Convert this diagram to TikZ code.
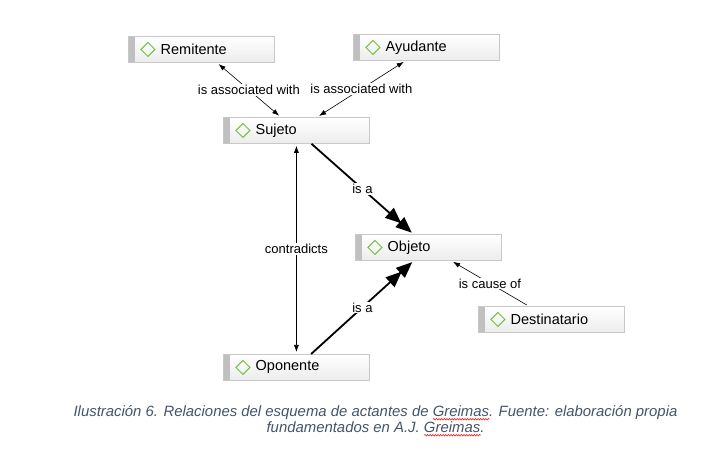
\documentclass[tikz,border=0pt]{standalone}
\usepackage{fontspec}
\setmainfont{Liberation Sans}
\usetikzlibrary{arrows.meta,decorations.pathmorphing}
\definecolor{boxborder}{HTML}{C8C8C8}
\definecolor{barcol}{HTML}{C0C0C0}
\definecolor{boxbot}{HTML}{ECECEC}
\definecolor{diacol}{HTML}{76C043}
\definecolor{capcol}{HTML}{44546A}
\newsavebox{\wavebox}
\newcommand\redwave[1]{\sbox{\wavebox}{#1}\rlap{\tikz[baseline=0pt]\draw[red, line width=0.5pt, decorate, decoration={snake, amplitude=0.8pt, segment length=2.6pt}] (0pt,-2.6pt) -- (\wd\wavebox,-2.6pt);}\usebox{\wavebox}}
\tikzset{
  actbox/.style={rectangle, draw=boxborder, line width=0.8pt, top color=white, bottom color=boxbot,
    minimum width=146pt, minimum height=26pt, inner sep=0pt, anchor=north west,
    path picture={
      \fill[barcol] (path picture bounding box.south west) rectangle ([xshift=7pt]path picture bounding box.north west);
      \draw[diacol, line width=1pt] ([xshift=12.5pt]path picture bounding box.west) -- ++(7pt,7pt) -- ++(7pt,-7pt) -- ++(-7pt,-7pt) -- cycle;
    }},
  acttext/.style={anchor=west, font=\fontsize{14.5}{16}\selectfont, inner sep=0pt, xshift=32.5pt, text=black},
  rel/.style={line width=0.6pt, {Latex[length=7pt,width=5pt]}-{Latex[length=7pt,width=5pt]}, shorten <=2pt, shorten >=2pt},
  relone/.style={line width=0.6pt, -{Latex[length=7pt,width=5pt]}, shorten <=2pt, shorten >=2pt},
  isa/.style={line width=1.8pt, -{Triangle[length=16pt,width=13pt,sep=-2pt]Triangle[length=16pt,width=13pt]}, shorten >=2pt},
  lab/.style={fill=white, inner sep=1pt, font=\fontsize{13}{15}\selectfont, text=black},
}
\begin{document}
\begin{tikzpicture}[x=1pt,y=-1pt]
\useasboundingbox (0,0) rectangle (726,454);
\node[actbox] (rem) at (128,36) {};
\node[acttext] (remt) at (rem.west) {Remitente};
\node[actbox] (ayu) at (353,34) {};
\node[acttext] (ayut) at (ayu.west) {Ayudante};
\node[actbox] (suj) at (223,117) {};
\node[acttext] (sujt) at (suj.west) {Sujeto};
\node[actbox] (obj) at (355,234) {};
\node[acttext] (objt) at (obj.west) {Objeto};
\node[actbox] (des) at (478,306) {};
\node[acttext] (dest) at (des.west) {Destinatario};
\node[actbox] (opo) at (223,354) {};
\node[acttext] (opot) at (opo.west) {Oponente};

\draw[rel] (suj) -- node[lab] (l1) {is associated with} (rem);
\draw[rel] (suj) -- node[lab] (l2) {is associated with} (ayu);
\draw[isa] (suj) -- node[lab] (l3) {is a} (obj);
\draw[rel] (suj) -- node[lab] (l4) {contradicts} (opo);
\draw[isa] (opo) -- node[lab] (l5) {is a} (obj);
\draw[relone] (des) -- node[lab] (l6) {is cause of} (obj);

\node[font=\itshape\fontsize{14.9}{16}\selectfont, text=capcol, align=center] (cap) at (375.5,421)
  {Ilustración 6. Relaciones del esquema de actantes de \redwave{Greimas}. Fuente: elaboración propia\\ fundamentados en A.J. \redwave{Greimas}.};
\end{tikzpicture}
\end{document}
